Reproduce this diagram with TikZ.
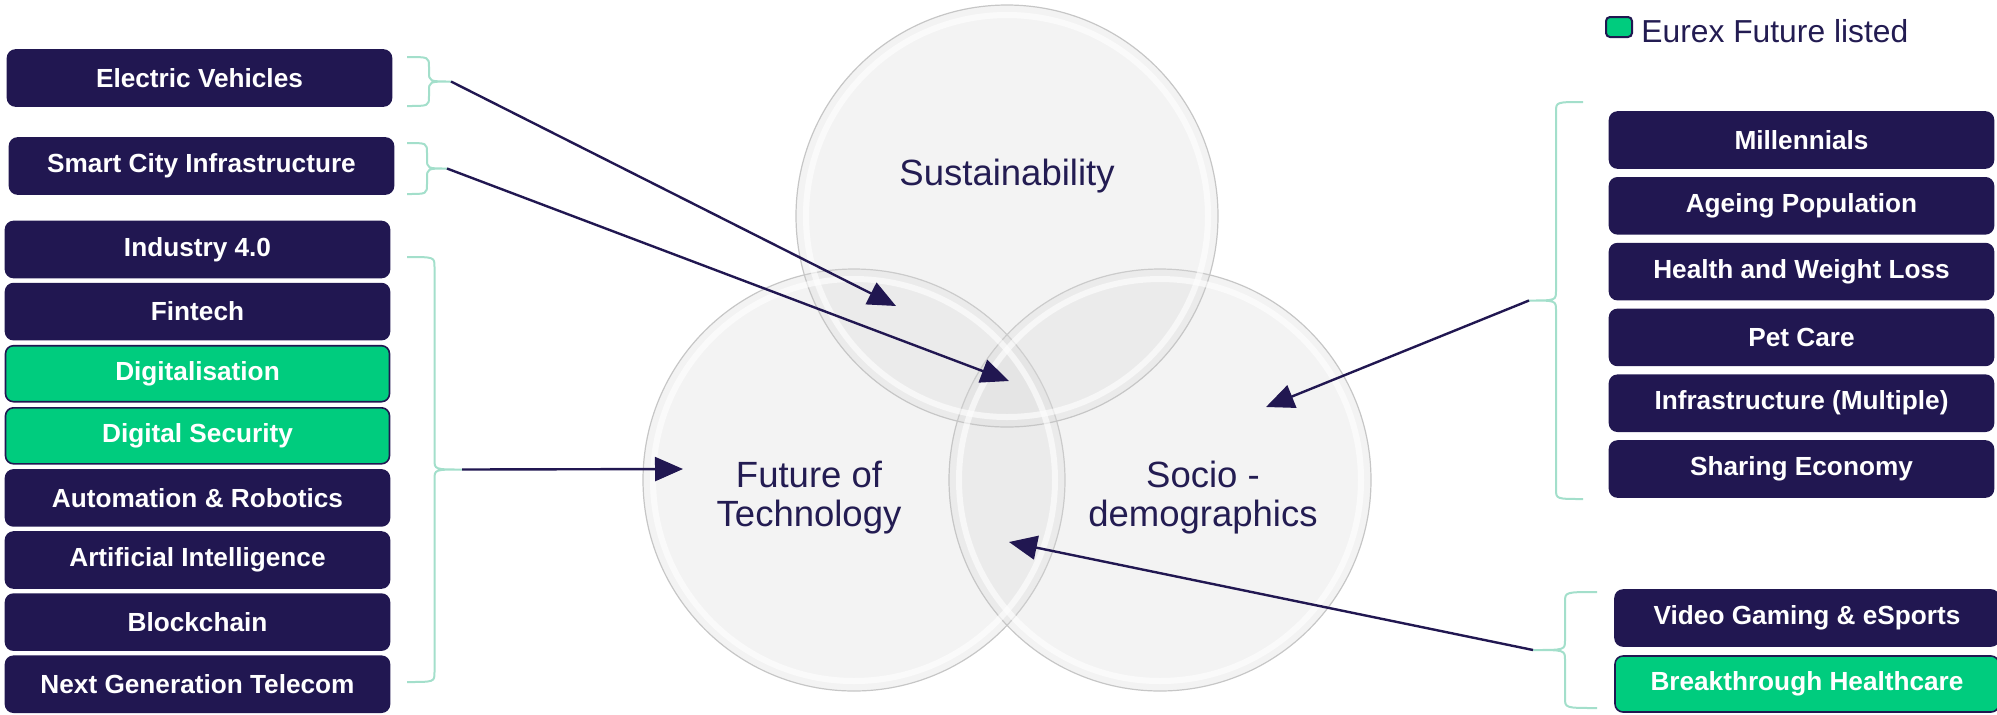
\documentclass[tikz,border=0pt]{standalone}
\usepackage{fontspec}
\setmainfont{Liberation Sans}
\usetikzlibrary{positioning,arrows.meta}

\definecolor{navy}{HTML}{211751}
\definecolor{navytext}{HTML}{231C52}
\definecolor{eurexgreen}{HTML}{00CC7E}
\definecolor{bracketgreen}{HTML}{A3DFCB}
\definecolor{circleline}{HTML}{C6C6C6}
\definecolor{circlefill}{HTML}{D8D8D8}

\tikzset{
  theme/.style={rectangle, rounded corners=4pt, fill=navy, draw=navy, line width=0.8pt,
    minimum width=192pt, minimum height=28pt, inner sep=0pt, text=white,
    font=\fontsize{13.1}{15}\selectfont\bfseries},
  listed/.style={theme, fill=eurexgreen},
  legendkey/.style={rectangle, rounded corners=2pt, fill=eurexgreen, draw=navy, line width=1pt,
    minimum width=13pt, minimum height=10pt, inner sep=0pt},
  bubble/.style={circle, minimum size=211pt, inner sep=0pt, fill=circlefill, fill opacity=0.3,
    draw=circleline, line width=0.6pt},
  glass/.style={draw=white, line width=3pt, opacity=0.6},
  bubbletext/.style={text=navytext, align=center, inner sep=0pt, font=\fontsize{18.25}{19.5}\selectfont},
  bracket/.style={draw=bracketgreen, line width=1pt},
  link/.style={draw=navy, line width=1.2pt, -{Triangle[length=14pt,width=12pt]}},
}

% brace: x of the ends, top y, bottom y, offset of the spine, name of the tip
\newcommand{\sidebrace}[5]{%
  \draw[bracket] (#1,#2) .. controls ({#1+#4},#2) .. ({#1+#4},{#2+10})
    -- ({#1+#4},{(#2+#3)/2-10}) .. controls ({#1+#4},{(#2+#3)/2}) .. ({#1+2*#4},{(#2+#3)/2}) coordinate (#5)
    .. controls ({#1+#4},{(#2+#3)/2}) .. ({#1+#4},{(#2+#3)/2+10})
    -- ({#1+#4},{#3-10}) .. controls ({#1+#4},#3) .. (#1,#3);}

\begin{document}
\begin{tikzpicture}[x=0.5pt,y=-0.5pt]
  \useasboundingbox (0,0) rectangle (1997,714);

  % the three themes
  \node[bubble] (tech) at (854,480) {};
  \node[bubble] (socio) at (1160,480) {};
  \node[bubble] (sust) at (1007,216) {};
  \draw[glass] (tech.center) circle (201);
  \draw[glass] (socio.center) circle (201);
  \draw[glass] (sust.center) circle (201);
  \node[bubbletext, anchor=base] (sustname) at (1007,185) {Sustainability};
  \node[bubbletext] (techname) at (809,498) {Future of\\Technology};
  \node[bubbletext] (socioname) at (1203,498) {Socio -\\demographics};

  % legend
  \node[legendkey] (key) at (1619,27) {};
  \node[anchor=base west, inner sep=0pt, text=navytext, font=\fontsize{15.9}{18}\selectfont]
    (keytext) at (1641,42) {Eurex Future listed};

  % left column
  \node[theme] (ev) at (199.5,78) {Electric Vehicles};
  \node[theme] (sci) at (201.5,166) {Smart City Infrastructure};
  \node[theme] (ind) at (197.5,249.5) {Industry 4.0};
  \node[theme, below=2.25pt of ind] (fin) {Fintech};
  \node[listed, below=2.25pt of fin] (dig) {Digitalisation};
  \node[listed, below=2.25pt of dig] (sec) {Digital Security};
  \node[theme, below=2.25pt of sec] (aut) {Automation \& Robotics};
  \node[theme, below=2.25pt of aut] (ai) {Artificial Intelligence};
  \node[theme, below=2.25pt of ai] (blk) {Blockchain};
  \node[theme, below=2.25pt of blk] (ngt) {Next Generation Telecom};

  % right column
  \node[theme] (mil) at (1801.5,140) {Millennials};
  \node[theme, below=4.1pt of mil] (age) {Ageing Population};
  \node[theme, below=4.1pt of age] (hwl) {Health and Weight Loss};
  \node[theme, below=4.1pt of hwl] (pet) {Pet Care};
  \node[theme, below=4.1pt of pet] (inf) {Infrastructure (Multiple)};
  \node[theme, below=4.1pt of inf] (shr) {Sharing Economy};
  \node[theme] (vge) at (1807,618) {Video Gaming \& eSports};
  \node[listed, below=4.2pt of vge] (bth) {Breakthrough Healthcare};

  % braces
  \sidebrace{407}{57}{106}{22}{evtip}
  \sidebrace{407}{143}{194}{20}{scitip}
  \sidebrace{407}{257}{682}{27.5}{techtip}
  \sidebrace{1583}{102}{499}{-27}{sociotip}
  \sidebrace{1597}{592}{708}{-32}{gametip}

  % arrow ends
  \coordinate (evend) at (896,306);
  \coordinate (sciend) at (1009,381);
  \coordinate (techend) at (683,469);
  \coordinate (socioend) at (1266,407);
  \coordinate (gameend) at (1009,542);

  \begin{scope}[link]
    \draw (evtip) -- (evend);
    \draw (scitip) -- (sciend);
    \draw (techtip) -- (techend);
    \draw (sociotip) -- (socioend);
    \draw (gametip) -- (gameend);
  \end{scope}
\end{tikzpicture}
\end{document}
